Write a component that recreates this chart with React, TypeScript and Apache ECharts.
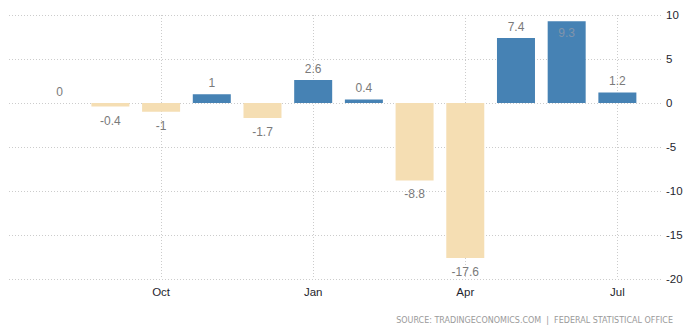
import React, { useEffect, useRef } from "react";
import * as echarts from "echarts";

const months = ["Aug", "Sep", "Oct", "Nov", "Dec", "Jan", "Feb", "Mar", "Apr", "May", "Jun", "Jul"];
const values = [0, -0.4, -1, 1, -1.7, 2.6, 0.4, -8.8, -17.6, 7.4, 9.3, 1.2];
const insideLabelIndex = 10; // label drawn inside the bar (near top)
const janIndex = 5;
const sourceText = "SOURCE: TRADINGECONOMICS.COM  |  FEDERAL STATISTICAL OFFICE";

const BLUE = "#4682B4";
const WHEAT = "#F5DEB3";

export default function App() {
  const ref = useRef<HTMLDivElement>(null);
  useEffect(() => {
    if (!ref.current) return;
    const chart = echarts.init(ref.current, null, { renderer: "svg" });
    const data = values.map((v, i) => ({
      value: [i - janIndex, v],
      itemStyle: { color: v >= 0 ? BLUE : WHEAT },
      label:
        i === insideLabelIndex
          ? { position: "insideTop", distance: 6, color: "#8094ab" }
          : { position: v >= 0 ? "top" : "bottom", distance: v >= 0 ? 5 : 8 },
    }));
    chart.setOption({
      animation: false,
      grid: { left: 9, right: 28, top: 15, bottom: 52 },
      xAxis: {
        type: "value",
        min: -6,
        max: 6.9,
        interval: 3,
        axisLine: { show: false },
        axisTick: { show: false },
        axisLabel: {
          showMinLabel: false,
          showMaxLabel: false,
          color: "#1f1f2e",
          fontFamily: "Liberation Sans",
          fontSize: 11.5,
          margin: 7,
          formatter: (v: number) => months[v + janIndex] ?? "",
        },
        splitLine: {
          show: true,
          showMinLine: false,
          showMaxLine: false,
          lineStyle: { color: "#cccccc", type: [1, 2], width: 1 },
        },
      },
      yAxis: {
        type: "value",
        position: "right",
        min: -20,
        max: 10,
        interval: 5,
        axisLine: { show: false },
        axisTick: { show: false },
        axisLabel: {
          color: "#1f1f2e",
          fontFamily: "Liberation Sans",
          fontSize: 11.5,
          margin: 3,
        },
        splitLine: {
          show: true,
          lineStyle: { color: "#cccccc", type: [1, 2], width: 1 },
        },
      },
      series: [
        {
          type: "bar",
          barWidth: 38,
          data,
          label: {
            show: true,
            color: "#7a7a7a",
            fontFamily: "Liberation Sans",
            fontSize: 12,
            formatter: (p: any) => String(p.value[1]),
          },
        },
      ],
      graphic: [
        {
          type: "text",
          right: 18,
          top: 316,
          style: {
            text: sourceText,
            fill: "#9a9a9a",
            font: "8px 'DejaVu Sans'",
          },
        },
      ],
    });
    return () => chart.dispose();
  }, []);
  return (
    <div
      ref={ref}
      style={{ position: "fixed", left: 0, top: 0, width: 691, height: 331, background: "#fff" }}
    />
  );
}
